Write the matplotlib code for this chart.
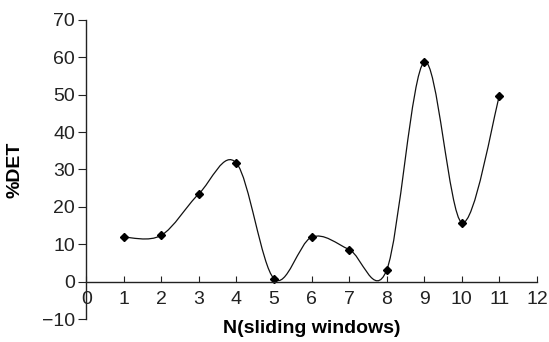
import numpy as np
import matplotlib
matplotlib.use("Agg")
import matplotlib.pyplot as plt
from matplotlib.path import Path
from matplotlib.patches import PathPatch

plt.rcParams['font.family'] = ['Liberation Sans', 'DejaVu Sans']

windows = [1, 2, 3, 4, 5, 6, 7, 8, 9, 10, 11]
det = [11.9, 12.4, 23.5, 31.7, 0.8, 11.9, 8.6, 3.1, 58.7, 15.8, 49.6]
x_ticks = list(range(0, 13))
y_ticks = list(range(-10, 71, 10))


def smooth_path(xs, ys):
    # Excel-style smoothed line: cubic Bezier segments with Catmull-Rom control points
    pts = np.column_stack([xs, ys]).astype(float)
    n = len(pts)
    verts = [pts[0]]
    codes = [Path.MOVETO]
    for i in range(n - 1):
        p0 = pts[i - 1] if i > 0 else pts[i]
        p1 = pts[i]
        p2 = pts[i + 1]
        p3 = pts[i + 2] if i + 2 < n else pts[i + 1]
        c1 = p1 + (p2 - p0) / 6.0
        c2 = p2 - (p3 - p1) / 6.0
        verts += [c1, c2, p2]
        codes += [Path.CURVE4] * 3
    return Path(verts, codes)


fig = plt.figure(figsize=(5.49, 3.42), dpi=100)
ax = fig.add_axes([0.157, 0.067, 0.821, 0.875])

ax.add_patch(PathPatch(smooth_path(windows, det), facecolor='none',
                       edgecolor='#111111', lw=0.9))
ax.plot(windows, det, linestyle='None', marker='D', markersize=4.5, color='black')

ax.set_xlim(0, 12)
ax.set_ylim(-10, 70)
ax.set_xticks(x_ticks)
ax.set_yticks(y_ticks)
ax.set_yticklabels(['\u221210' if v < 0 else str(v) for v in y_ticks])

ax.spines['top'].set_visible(False)
ax.spines['right'].set_visible(False)
ax.spines['bottom'].set_position(('data', 0))
for s in ('left', 'bottom'):
    ax.spines[s].set_linewidth(1.0)
    ax.spines[s].set_color('#222222')

ax.tick_params(axis='x', direction='in', length=4, pad=7, labelsize=14, colors='#222222')
ax.tick_params(axis='y', direction='out', length=6, pad=2, labelsize=14, colors='#222222')

ax.set_xlabel('N(sliding windows)', fontsize=14, fontweight='bold')
ax.xaxis.set_label_coords(0.5, -0.003)
ax.set_ylabel('%DET', fontsize=14, fontweight='bold')
ax.yaxis.set_label_coords(-0.138, 0.5)

fig.savefig('out.png', dpi=100)
